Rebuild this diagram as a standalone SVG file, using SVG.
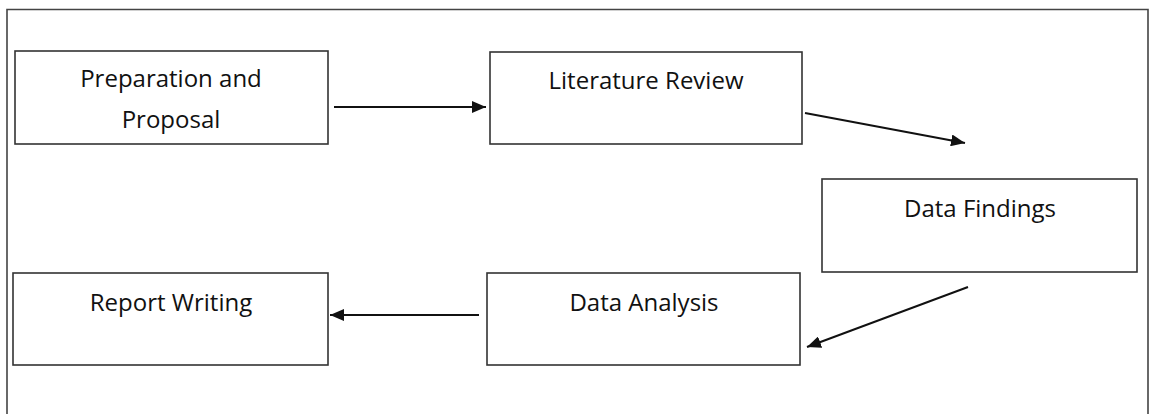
<svg xmlns="http://www.w3.org/2000/svg" width="1149" height="414" viewBox="0 0 1149 414">
<style>
.box{fill:#fff;stroke:#333;stroke-width:1.6}
.frame{fill:none;stroke:#444;stroke-width:1.6}
.lbl{font-family:"Open Sans","Liberation Sans",sans-serif;font-size:24px;fill:#111;text-anchor:middle}
.conn{stroke:#111;stroke-width:2;fill:none;marker-end:url(#ah)}
</style>
<defs>
<marker id="ah" viewBox="0 0 10 10" refX="10" refY="5" markerWidth="14" markerHeight="12" markerUnits="userSpaceOnUse" orient="auto" preserveAspectRatio="none">
<path d="M0,0 L10,5 L0,10 z" fill="#111"/>
</marker>
</defs>
<rect width="1149" height="414" fill="#fff"/>
<path class="frame" d="M7,414 V9.5 H1148 V414"/>
<g id="prep">
<rect class="box" x="15" y="51" width="313" height="93"/>
<text class="lbl" x="171" y="87">Preparation and</text>
<text class="lbl" x="171" y="128">Proposal</text>
</g>
<g id="lit">
<rect class="box" x="490" y="52" width="312" height="92"/>
<text class="lbl" x="646" y="89">Literature Review</text>
</g>
<g id="findings">
<rect class="box" x="822" y="179" width="315" height="93"/>
<text class="lbl" x="980" y="217">Data Findings</text>
</g>
<g id="analysis">
<rect class="box" x="487" y="273" width="313" height="92"/>
<text class="lbl" x="644" y="311">Data Analysis</text>
</g>
<g id="report">
<rect class="box" x="13" y="273" width="315" height="92"/>
<text class="lbl" x="171" y="311">Report Writing</text>
</g>
<g id="connectors">
<line class="conn" x1="334" y1="107" x2="486" y2="107"/>
<line class="conn" x1="805" y1="113" x2="965" y2="143"/>
<line class="conn" x1="968" y1="287" x2="807" y2="347"/>
<line class="conn" x1="479" y1="315" x2="330" y2="315"/>
</g>
</svg>
